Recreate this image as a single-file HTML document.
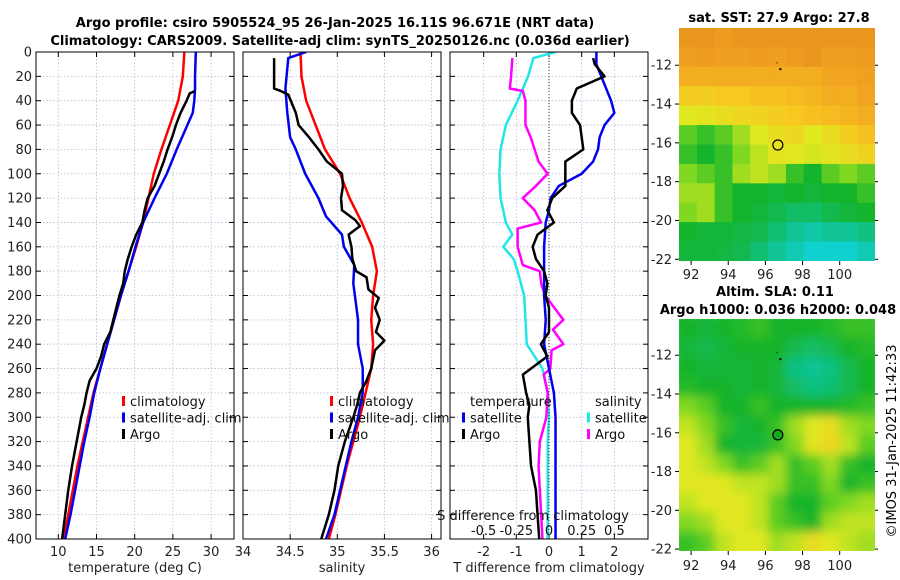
<!DOCTYPE html>
<html><head><meta charset="utf-8"><style>
html,body{margin:0;padding:0;background:#fff;}
svg{display:block;font-family:"DejaVu Sans","Liberation Sans",sans-serif;}
</style></head><body>
<svg id="chart" width="900" height="580" viewBox="0 0 900 580" xmlns="http://www.w3.org/2000/svg">
<defs>
<clipPath id="cp1"><rect x="36" y="52" width="198" height="487"/></clipPath>
<clipPath id="cp2"><rect x="243" y="52" width="198" height="487"/></clipPath>
<clipPath id="cp3"><rect x="450" y="52" width="198" height="487"/></clipPath>
<clipPath id="cpm1"><rect x="679" y="28" width="196" height="233"/></clipPath>
<clipPath id="cpm2"><rect x="679" y="319" width="196" height="232"/></clipPath>
<filter id="blur" x="-10%" y="-10%" width="120%" height="120%"><feGaussianBlur stdDeviation="5"/></filter>
</defs>
<text x="335" y="27" text-anchor="middle" font-size="13" font-weight="bold">Argo profile: csiro 5905524_95 26-Jan-2025 16.11S 96.671E (NRT data)</text>
<text x="340" y="45" text-anchor="middle" font-size="13" font-weight="bold">Climatology: CARS2009. Satellite-adj clim: synTS_20250126.nc (0.036d earlier)</text>
<text x="779" y="22" text-anchor="middle" font-size="13" font-weight="bold">sat. SST: 27.9 Argo: 27.8</text>
<text x="775" y="296" text-anchor="middle" font-size="13" font-weight="bold">Altim. SLA: 0.11</text>
<text x="778" y="314" text-anchor="middle" font-size="13" font-weight="bold">Argo h1000: 0.036 h2000: 0.048</text>
<text transform="translate(896,441) rotate(-90)" text-anchor="middle" font-size="13">©IMOS 31-Jan-2025 11:42:33</text>
<g id="g"></g>
</svg>
<script>
// ---------- data ----------
const depthTicks = [0,20,40,60,80,100,120,140,160,180,200,220,240,260,280,300,320,340,360,380,400];
const tTicks = [10,15,20,25,30];
const sTicks = [34,34.5,35,35.5,36];
const dTicks = [-2,-1,0,1,2];
const sdTicks = [-0.5,-0.25,0,0.25,0.5];
const sdTickLabels = ["-0.5","-0.25","0","0.25","0.5"];

const climDepth = [0,20,40,60,80,100,120,140,160,180,200,220,240,260,280,300,320,340,360,380,400];
const climTemp = [26.5,26.3,25.7,24.6,23.5,22.5,21.8,21.1,20.2,19.2,18.2,17.3,16.4,15.5,14.6,13.9,13.2,12.5,11.9,11.3,10.7];
const satDepth = [0,20,30,40,50,60,80,100,120,140,160,180,200,220,240,260,280,300,320,340,360,380,400];
const satTemp = [28.0,27.9,27.9,27.8,27.6,26.9,25.5,24.2,22.6,21.1,20.1,19.2,18.2,17.3,16.4,15.5,14.7,14.1,13.4,12.8,12.2,11.6,10.9];
const argoTDepth = [32,34,40,50,60,70,80,90,100,110,120,130,140,150,160,170,180,190,200,210,220,230,240,250,260,270,280,290,300,320,340,360,380,400];
const argoTemp = [27.9,27.2,26.8,26.0,25.4,24.9,24.3,23.8,23.2,22.6,21.7,21.3,21.0,20.2,19.6,19.1,18.7,18.5,18.0,17.6,17.2,16.8,16.0,15.6,15.0,14.1,13.7,13.4,13.0,12.4,11.8,11.3,10.9,10.5];

const climSal = [34.61,34.62,34.67,34.77,34.87,35.03,35.13,35.26,35.37,35.42,35.38,35.36,35.38,35.36,35.30,35.24,35.17,35.10,35.04,34.98,34.91];
const satSDepth = [0,5,30,50,70,80,100,120,135,150,160,175,190,220,240,260,280,300,320,340,360,380,400];
const satSal = [34.67,34.48,34.45,34.47,34.50,34.56,34.66,34.80,34.88,35.05,35.07,35.18,35.17,35.22,35.22,35.27,35.27,35.22,35.15,35.09,35.03,34.97,34.88];
const argoSDepth = [5,30,32,35,50,60,70,80,90,100,110,120,130,138,143,150,160,170,180,185,195,202,210,220,230,237,245,260,270,280,290,300,320,340,360,380,400];
const argoSal = [34.33,34.33,34.40,34.48,34.56,34.59,34.70,34.80,34.89,35.05,35.06,35.04,35.05,35.19,35.24,35.12,35.15,35.16,35.20,35.31,35.33,35.44,35.40,35.45,35.41,35.50,35.40,35.36,35.31,35.24,35.21,35.17,35.08,35.01,34.97,34.91,34.83];

const satTDiffDepth = [0,10,20,30,40,50,60,70,80,90,100,110,120,130,140,160,180,200,220,240,260,280,300,320,340,360,380,400];
const satTDiff = [1.45,1.45,1.6,1.75,1.9,2.0,1.7,1.55,1.5,1.35,1.0,0.3,0.05,0.0,-0.1,-0.15,-0.15,-0.15,-0.1,-0.15,0.0,0.15,0.2,0.2,0.2,0.2,0.2,0.2];
const argoTDiffDepth = [5,10,20,30,40,50,60,70,80,90,100,110,120,130,140,150,160,170,180,190,200,210,220,230,240,250,265,280,290,300,320,340,360,380,400];
const argoTDiff = [1.35,1.4,1.7,0.85,0.7,0.7,0.95,1.0,1.05,0.5,0.5,0.5,0.1,-0.05,0.15,-0.35,-0.5,-0.4,-0.15,-0.05,-0.1,0.0,0.0,0.0,-0.25,-0.05,-0.8,-0.7,-0.6,-0.65,-0.6,-0.55,-0.4,-0.35,-0.3];
const satSDiffDepth = [0,5,20,40,60,80,100,120,140,150,160,170,180,200,220,240,260,280,300,320,340,360,380,400];
const satSDiff = [0.05,-0.12,-0.16,-0.24,-0.33,-0.37,-0.38,-0.37,-0.33,-0.28,-0.35,-0.27,-0.24,-0.19,-0.18,-0.17,-0.05,-0.01,0.0,-0.01,-0.01,-0.01,-0.01,-0.01];
const argoSDiffDepth = [5,20,30,32,40,60,70,80,90,100,110,120,130,140,145,160,175,180,190,200,210,220,228,240,245,260,265,280,300,320,340,360,380,400];
const argoSDiff = [-0.28,-0.29,-0.30,-0.2,-0.18,-0.18,-0.14,-0.11,-0.08,-0.01,-0.1,-0.2,-0.11,-0.06,-0.24,-0.24,-0.2,-0.07,-0.06,-0.03,0.04,0.11,0.03,0.11,0.02,0.01,-0.04,-0.01,-0.02,-0.07,-0.08,-0.07,-0.06,-0.05];

const lonTicks = [92,94,96,98,100];
const latTicks = [-12,-14,-16,-18,-20,-22];
const sstGrid = [
[.95,.95,.92,.95,.95,.95,.95,.95,.95,.95,.95],
[.9,.92,.9,.9,.92,.9,.92,.95,.9,.9,.92],
[.85,.85,.85,.85,.85,.85,.85,.85,.88,.88,.9],
[.72,.72,.75,.75,.78,.78,.8,.82,.85,.85,.88],
[.6,.62,.65,.68,.7,.72,.75,.78,.8,.82,.85],
[.4,.35,.4,.5,.6,.65,.68,.6,.65,.72,.78],
[.35,.3,.35,.45,.55,.62,.6,.58,.62,.65,.7],
[.45,.4,.35,.5,.55,.5,.35,.3,.4,.45,.4],
[.5,.5,.35,.3,.3,.28,.3,.28,.3,.3,.35],
[.45,.5,.35,.3,.28,.25,.22,.22,.25,.28,.3],
[.3,.28,.28,.27,.25,.2,.15,.12,.15,.15,.18],
[.28,.28,.27,.25,.2,.15,.1,.05,.05,.05,.1]];
const slaGrid = [
[.3,.28,.3,.32,.35,.3,.3,.3,.32,.35,.35],
[.28,.25,.28,.3,.3,.3,.25,.22,.25,.3,.32],
[.3,.28,.28,.28,.3,.28,.18,.15,.18,.25,.3],
[.32,.3,.3,.28,.3,.28,.22,.18,.2,.25,.3],
[.45,.4,.3,.3,.35,.3,.3,.3,.3,.32,.35],
[.55,.45,.35,.28,.3,.35,.5,.6,.65,.5,.45],
[.6,.5,.3,.28,.28,.35,.45,.62,.68,.55,.4],
[.6,.55,.45,.35,.4,.5,.35,.4,.5,.35,.3],
[.6,.62,.6,.55,.55,.5,.35,.35,.45,.3,.35],
[.55,.6,.62,.6,.55,.4,.3,.3,.4,.45,.5],
[.45,.5,.6,.62,.55,.4,.35,.3,.5,.55,.55],
[.35,.4,.55,.6,.6,.5,.55,.65,.6,.55,.5]];
const floatLon = [96.67];
const floatLat = [-16.11];

// ---------- drawing ----------
const NS="http://www.w3.org/2000/svg";
const root=document.getElementById('g');
function mk(tag,attrs,parent){const e=document.createElementNS(NS,tag);for(const k in attrs)e.setAttribute(k,attrs[k]);(parent||root).appendChild(e);return e;}
const Y0=52,Y1=539;
const yD=d=>Y0+(d/400)*(Y1-Y0);

function panel(name,x0,x1,xmin,xmax,ticks,labels,title,clip){
  const xs=v=>x0+(v-xmin)/(xmax-xmin)*(x1-x0);
  const g=mk('g',{});
  
  
  depthTicks.forEach(d=>{const l=mk('line',{x1:x0,x2:x1,y1:yD(d),y2:yD(d),stroke:'#b4bcd8','stroke-width':0.8,'stroke-dasharray':'1.5,2'},g);
    
    mk('line',{x1:x0,x2:x0+5,y1:yD(d),y2:yD(d),stroke:'#000'},g);mk('line',{x1:x1-5,x2:x1,y1:yD(d),y2:yD(d),stroke:'#000'},g);});
  ticks.forEach((t,i)=>{const x=xs(t);
    const l=mk('line',{x1:x,x2:x,y1:Y0,y2:Y1,stroke:'#b4bcd8','stroke-width':0.8,'stroke-dasharray':'1.5,2'},g);
    
    mk('line',{x1:x,x2:x,y1:Y1-5,y2:Y1,stroke:'#000'},g);mk('line',{x1:x,x2:x,y1:Y0,y2:Y0+5,stroke:'#000'},g);
    const tx=mk('text',{x:x,y:556,'text-anchor':'middle','font-size':13,fill:'#222'},g);tx.textContent=labels[i];
    });
  const tt=mk('text',{x:(x0+x1)/2,y:572,'text-anchor':'middle','font-size':13,fill:'#222'},g);tt.textContent=title;
  
  const lines=mk('g',{'clip-path':'url(#'+clip+')'},g);
  return {xs,g,lines,x0,x1};
}
function series(p,name,xsFn,vals,depths,color,w){
  const pts=vals.map((v,i)=>xsFn(v).toFixed(2)+','+yD(depths[i]).toFixed(2)).join(' ');
  const pl=mk('polyline',{points:pts,fill:'none',stroke:color,'stroke-width':w||2.5,'stroke-linejoin':'round'},p.lines);
  
}
function frame(p){const r=mk('rect',{x:p.x0,y:Y0,width:p.x1-p.x0,height:Y1-Y0,fill:'none',stroke:'#000','stroke-width':1},p.g);
  }
function legend(p,items,x,y){items.forEach((it,i)=>{
  const yy=y+i*16.5;
  const m=mk('rect',{x:x,y:yy-10,width:3,height:10,fill:it[1]},p.g);
  
  const t=mk('text',{x:x+8,y:yy,'font-size':13,fill:'#111'},p.g);t.textContent=it[0];
  });}

depthTicks.forEach(d=>{const t=mk('text',{x:32,y:yD(d)+4.5,'text-anchor':'end','font-size':13,fill:'#222'});t.textContent=d;
  });

const p1=panel('temperature-panel',36,234,7.08,33.0,tTicks,tTicks.map(String),'temperature (deg C)','cp1');
series(p1,'temp-climatology-line',p1.xs,climTemp,climDepth,'#ff0000');
series(p1,'temp-satellite-line',p1.xs,satTemp,satDepth,'#0000ee');
series(p1,'temp-argo-line',p1.xs,argoTemp,argoTDepth,'#000');
frame(p1);
legend(p1,[['climatology','#ff0000'],['satellite-adj. clim','#0000ee'],['Argo','#000']],122,406);

const p2=panel('salinity-panel',243,441,34.0,36.1,sTicks,sTicks.map(String),'salinity','cp2');
series(p2,'sal-climatology-line',p2.xs,climSal,climDepth,'#ff0000');
series(p2,'sal-satellite-line',p2.xs,satSal,satSDepth,'#0000ee');
series(p2,'sal-argo-line',p2.xs,argoSal,argoSDepth,'#000');
frame(p2);
legend(p2,[['climatology','#ff0000'],['satellite-adj. clim','#0000ee'],['Argo','#000']],330,406);

const p3=panel('difference-panel',450,648,-3.03,3.03,dTicks,dTicks.map(String),'T difference from climatology','cp3');
const xsS=v=>549+v*130.8;
const z=mk('line',{x1:549,x2:549,y1:Y0,y2:Y1,stroke:'#333','stroke-width':1,'stroke-dasharray':'1,2'},p3.g);

series(p3,'sdiff-satellite-line',xsS,satSDiff,satSDiffDepth,'#22e6e6');
series(p3,'sdiff-argo-line',xsS,argoSDiff,argoSDiffDepth,'#ff00ff');
series(p3,'tdiff-satellite-line',p3.xs,satTDiff,satTDiffDepth,'#0000ee');
series(p3,'tdiff-argo-line',p3.xs,argoTDiff,argoTDiffDepth,'#000');
frame(p3);
[['temperature',470,406],['salinity',595,406]].forEach(a=>{const t=mk('text',{x:a[1],y:a[2],'font-size':13,fill:'#111'},p3.g);t.textContent=a[0];
  });
legend(p3,[['satellite','#0000ee'],['Argo','#000']],462,422.5);
legend(p3,[['satellite','#22e6e6'],['Argo','#ff00ff']],587,422.5);
const st=mk('text',{x:533,y:520,'text-anchor':'middle','font-size':13,fill:'#111'},p3.g);st.textContent='S difference from climatology';

sdTicks.forEach((v,i)=>{const t=mk('text',{x:xsS(v),y:535,'text-anchor':'middle','font-size':13,fill:'#111'},p3.g);t.textContent=sdTickLabels[i];
  });

// ---------- maps ----------
const stops=[[0,[16,216,232]],[0.15,[16,196,150]],[0.3,[20,180,44]],[0.45,[128,216,32]],[0.6,[224,232,32]],[0.75,[248,200,32]],[0.9,[240,160,32]],[1,[224,140,28]]];
function cmap(v){for(let i=1;i<stops.length;i++){if(v<=stops[i][0]){const a=stops[i-1],b=stops[i],f=(v-a[0])/(b[0]-a[0]);
  return 'rgb('+a[1].map((c,k)=>Math.round(c+(b[1][k]-c)*f)).join(',')+')';}}return 'rgb(224,140,28)';}
function map(name,grid,top,bot,latTop,latBot,clip,blur,filled,labY){
  const x0=679,x1=875,lonMin=91.35,lonMax=101.9;
  const lx=v=>x0+(v-lonMin)/(lonMax-lonMin)*(x1-x0);
  const ly=v=>top+(latTop-v)/(latTop-latBot)*(bot-top);
  const g=mk('g',{});
  const cg=mk('g',{'clip-path':'url(#'+clip+')'},g);
  const hg=mk('g',blur?{filter:'url(#blur)'}:{},cg);
  if(blur) mk('rect',{x:x0,y:top,width:x1-x0,height:bot-top,fill:cmap(0.3)},hg);
  grid.forEach((row,r)=>row.forEach((v,c)=>{
    const la0=latTop-r*((latTop-latBot)/grid.length), la1=latTop-(r+1)*((latTop-latBot)/grid.length);
    const lo0=lonMin+c*((lonMax-lonMin)/row.length), lo1=lonMin+(c+1)*((lonMax-lonMin)/row.length);
    const e=blur?8:0;
    const re=mk('rect',{x:lx(lo0)-(c==0?e:0),y:ly(la0)-(r==0?e:0),width:lx(lo1)-lx(lo0)+0.6+(c==0||c==row.length-1?e:0),height:ly(la1)-ly(la0)+0.6+(r==0||r==grid.length-1?e:0),fill:cmap(v)},hg);
    }));
  mk('rect',{x:lx(96.75),y:ly(-12.15),width:2,height:2,fill:'#000'},cg);
  mk('rect',{x:lx(96.6),y:ly(-11.85),width:1,height:1,fill:'#000'},cg);
  const ci=mk('circle',{cx:lx(floatLon[0]),cy:ly(floatLat[0]),r:5,fill:filled?'#18a820':'none',stroke:'#000','stroke-width':1.2},g);
  
  lonTicks.forEach(v=>{mk('line',{x1:lx(v),x2:lx(v),y1:bot,y2:bot+4,stroke:'#000'},g);
    const t=mk('text',{x:lx(v),y:labY,'text-anchor':'middle','font-size':13,fill:'#222'},g);t.textContent=v;
    });
  latTicks.forEach(v=>{mk('line',{x1:x0-4,x2:x0,y1:ly(v),y2:ly(v),stroke:'#000'},g);mk('line',{x1:x1,x2:x1+3,y1:ly(v),y2:ly(v),stroke:'#000'},g);
    const t=mk('text',{x:672,y:ly(v)+4.5,'text-anchor':'end','font-size':13,fill:'#222'},g);t.textContent=v;
    });
}
map('sst-map',sstGrid,28,261,-10.08,-22.09,'cpm1',false,false,279);
map('sla-map',slaGrid,319,551,-10.13,-22.1,'cpm2',true,true,570);
</script>
</body></html>
